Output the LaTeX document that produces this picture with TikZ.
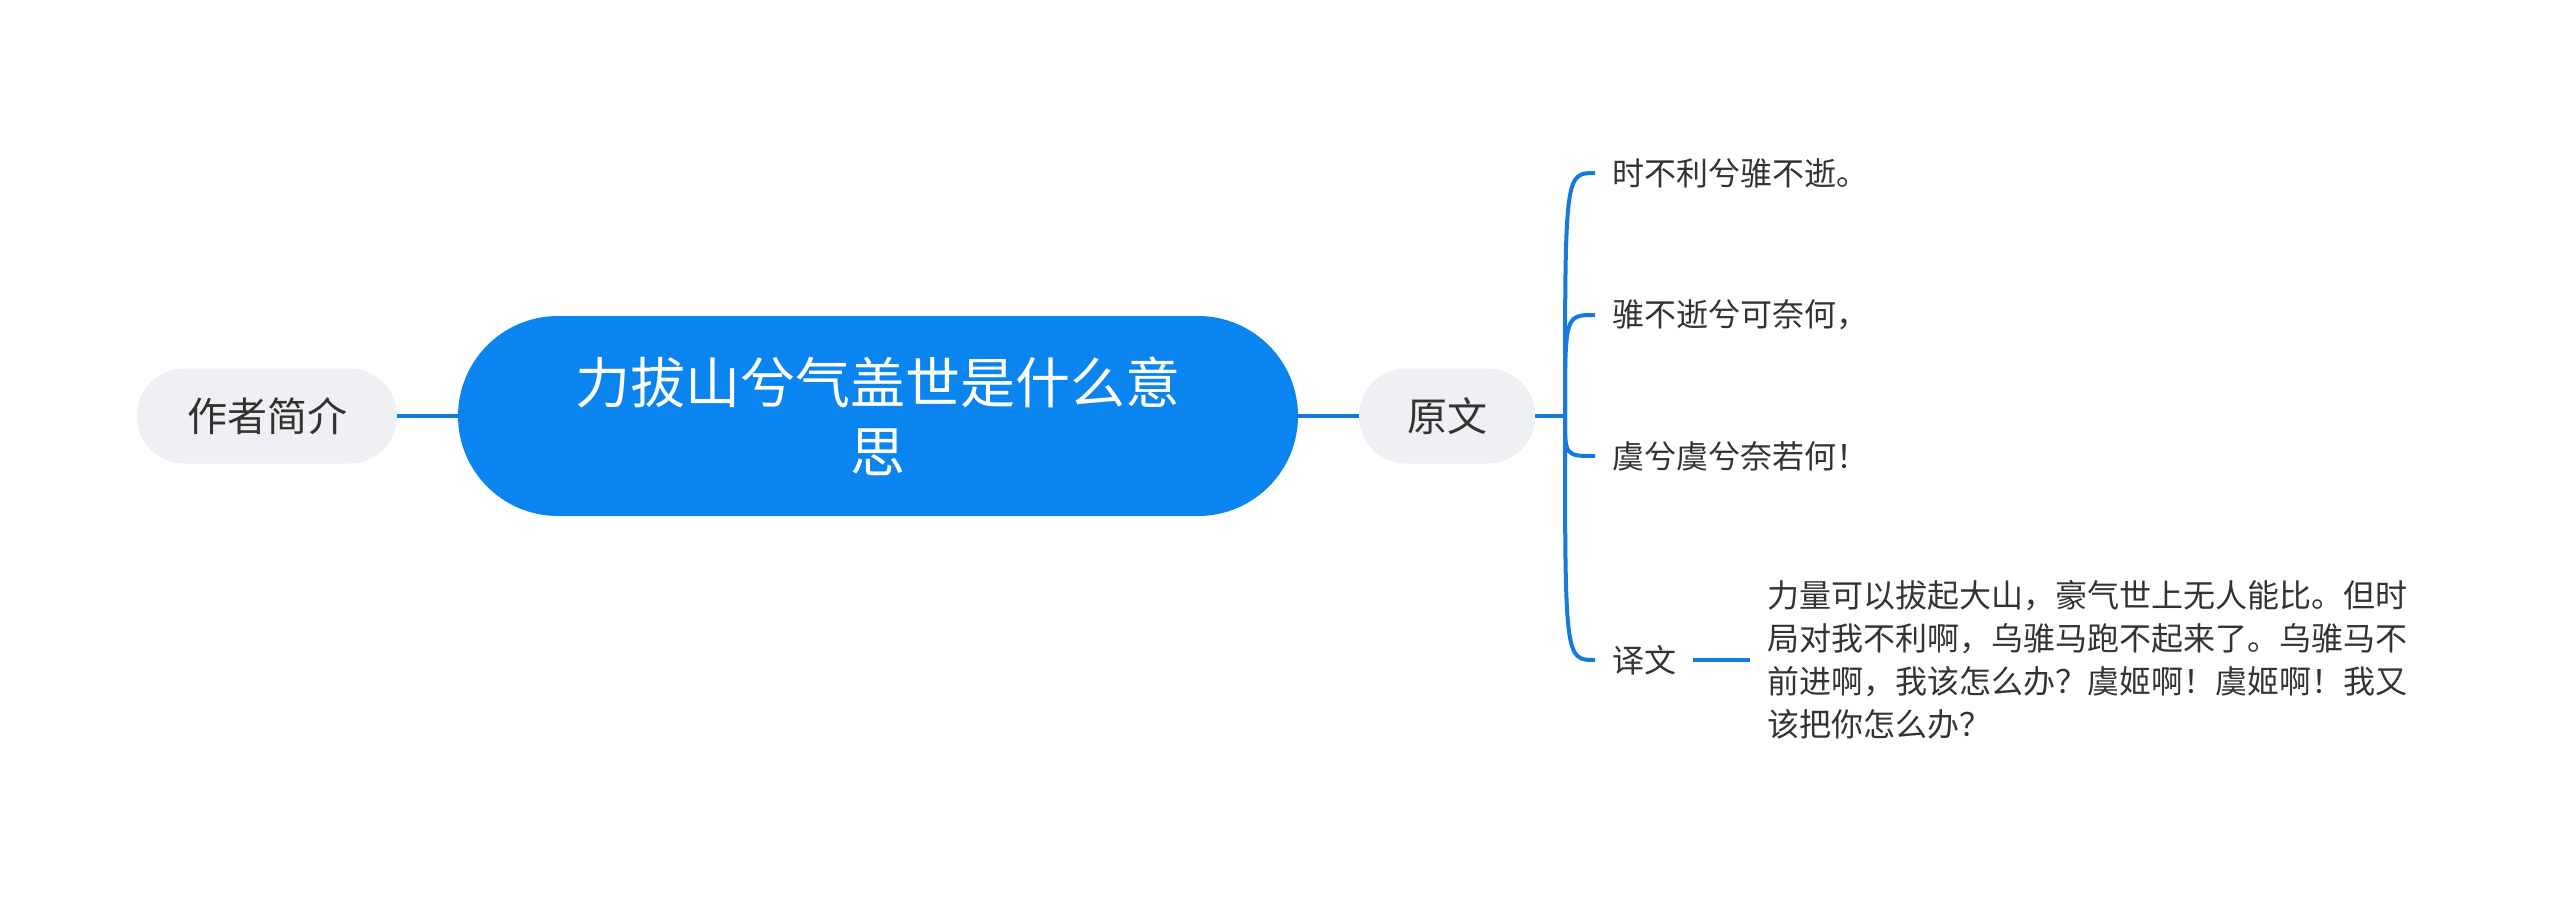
\documentclass[tikz,border=0pt]{standalone}
\usepackage{fontspec}
\setmainfont{Noto Sans CJK SC}
\definecolor{mainblue}{HTML}{0A84EE}
\definecolor{lineblue}{HTML}{1479E0}
\definecolor{nodegrey}{HTML}{EEF0F3}
\definecolor{textdark}{HTML}{333333}
\begin{document}
\begin{tikzpicture}[x=1bp,y=-1bp,
  every node/.style={inner sep=0pt, outer sep=0pt},
  pill/.style={fill=nodegrey, text=textdark, font=\fontsize{40bp}{48bp}\selectfont, rounded corners=47bp, minimum height=95bp},
  mainbox/.style={fill=mainblue, text=white, rounded corners=100bp, minimum width=840bp, minimum height=200bp, align=center, font=\fontsize{55bp}{69bp}\selectfont},
  leaf/.style={anchor=west, inner xsep=17bp, text=textdark, font=\fontsize{32bp}{43bp}\selectfont, align=left},
  link/.style={draw=lineblue, line width=4bp}
]
\useasboundingbox (0,0) rectangle (2560,896);
\node[mainbox] (main) at (878,416) {力拔山兮气盖世是什么意\\思};
\node[pill, minimum width=260bp] (author) at (267,416) {作者简介};
\node[pill, minimum width=176bp] (yuanwen) at (1447,416) {原文};
\node[leaf] (l1) at (1595,173) {时不利兮骓不逝。};
\node[leaf] (l2) at (1595,315) {骓不逝兮可奈何，};
\node[leaf] (l3) at (1595,456) {虞兮虞兮奈若何！};
\node[leaf] (yiwen) at (1595,660) {译文};
\node[leaf] (para) at (1750,660) {力量可以拔起大山，豪气世上无人能比。但时\\局对我不利啊，乌骓马跑不起来了。乌骓马不\\前进啊，我该怎么办？虞姬啊！虞姬啊！我又\\该把你怎么办？};
\coordinate (fork) at (1565,416);
\draw[link] (author.east) -- (main.west);
\draw[link] (main.east) -- (yuanwen.west);
\draw[link] (yuanwen.east) -- (fork);
\foreach \n in {l1,l2,l3,yiwen}
  \draw[link] (fork) .. controls (fork |- \n.west) .. (\n.west);
\draw[link] (yiwen.east) -- (para.west);
\end{tikzpicture}
\end{document}
